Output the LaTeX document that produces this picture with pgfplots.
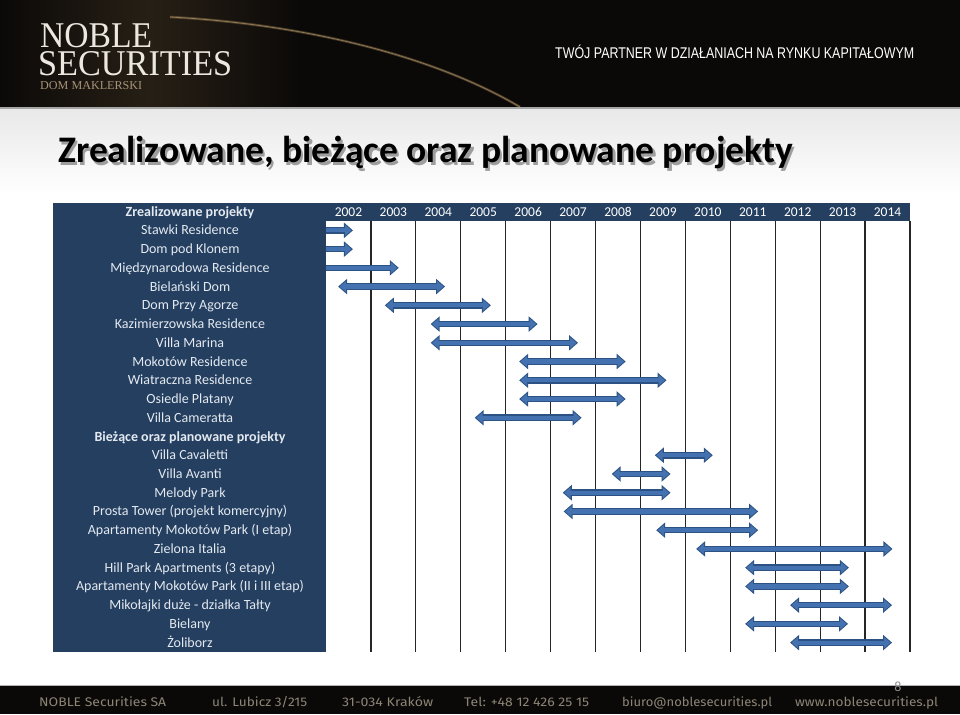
\documentclass[border=0pt]{standalone}
\usepackage{pgfplots}
\pgfplotsset{compat=1.18}
\usepackage{graphicx}
\usepackage{fontspec}
\setmainfont{Carlito}
\newfontfamily\logofont{Liberation Serif}
\newfontfamily\tagfont{Liberation Sans}
\newfontfamily\footfont{Fira Sans}
\usetikzlibrary{arrows.meta}
\definecolor{navy}{HTML}{243F60}
\definecolor{labeltext}{HTML}{E4E9F0}
\definecolor{arrowfill}{HTML}{4472B0}
\definecolor{arrowdark}{HTML}{2C5283}
\definecolor{headblack}{HTML}{0B0908}
\definecolor{logotext}{HTML}{ECE8E0}
\definecolor{logotan}{HTML}{A89478}
\definecolor{foottext}{HTML}{8C8476}
\definecolor{gold}{HTML}{B8945A}
\tikzset{
  dblo/.style={draw=arrowdark, line width=6.6pt, arrows={Triangle[width=15pt,length=9pt]-Triangle[width=15pt,length=9pt]}},
  dbli/.style={draw=arrowfill, line width=4.2pt, shorten <=1.5pt, shorten >=1.5pt, arrows={Triangle[width=10.6pt,length=6.4pt]-Triangle[width=10.6pt,length=6.4pt]}},
  rgto/.style={draw=arrowdark, line width=6.6pt, arrows={-Triangle[width=15pt,length=9pt]}},
  rgti/.style={draw=arrowfill, line width=4.2pt, shorten >=1.5pt, arrows={-Triangle[width=10.6pt,length=6.4pt]}},
}
\newcommand{\dbl}[3]{%
  \addplot[dblo, mark=none] coordinates {(#2,#1) (#3,#1)};
  \addplot[dbli, mark=none] coordinates {(#2,#1) (#3,#1)};}
\newcommand{\rgt}[3]{%
  \addplot[rgto, mark=none] coordinates {(#2,#1) (#3,#1)};
  \addplot[rgti, mark=none] coordinates {(#2,#1) (#3,#1)};}
\begin{document}
\begin{tikzpicture}[x=1pt,y=1pt]
\useasboundingbox (0,0) rectangle (960,714);
\fill[white] (0,0) rectangle (960,714);
\shade[top color=black!9, bottom color=white] (0,520) rectangle (960,606);
% header band
\fill[headblack] (0,607) rectangle (960,714);
\shade[left color=headblack, right color=headblack, middle color=gold!16!headblack] (0,607) rectangle (300,714);
\draw[gold, opacity=.35, line width=2.5pt] (170,697) .. controls (300,690) and (430,660) .. (520,607);
\draw[gold!70!white, opacity=.5, line width=0.8pt] (170,697) .. controls (300,690) and (430,660) .. (520,607);
\draw[black!35, line width=2pt] (0,606) -- (960,606);
% logo
\node[anchor=base west, inner sep=0, text=logotext] at (40,666) {\resizebox{112pt}{24pt}{\logofont NOBLE}};
\node[anchor=base west, inner sep=0, text=logotext] at (38,638.5) {\resizebox{194pt}{24pt}{\logofont SECURITIES}};
\node[anchor=base west, inner sep=0, text=logotan] at (40,624) {\resizebox{102pt}{8pt}{\logofont DOM MAKLERSKI}};
% tagline
\node[anchor=base west, inner sep=0, text=white] at (555,655) {\resizebox{359pt}{\height}{\tagfont\fontsize{15.5}{17}\selectfont TWÓJ PARTNER W DZIAŁANIACH NA RYNKU KAPITAŁOWYM}};
% title
\node[anchor=base west, inner sep=0, text=black!38] at (60.5,548.5) {\fontsize{37.5}{40}\selectfont\bfseries Zrealizowane, bieżące oraz planowane projekty};
\node[anchor=base west, inner sep=0, text=black] at (58,551) {\fontsize{37.5}{40}\selectfont\bfseries Zrealizowane, bieżące oraz planowane projekty};
% table panel
\fill[navy] (53,62) rectangle (326,511);
\fill[navy] (326,493) rectangle (910,511);
\node[text=labeltext, font=\fontsize{14}{16}\selectfont\bfseries, text height=9pt, text depth=0pt, anchor=center] at (190,502) {Zrealizowane projekty};
\begin{axis}[
  at={(326pt,62pt)}, anchor=south west,
  scale only axis, width=584pt, height=431pt,
  xmin=2002, xmax=2015, ymin=0.5, ymax=23.5, y dir=reverse,
  axis line style={draw=none},
  clip=false,
  xtick={2002.5,2003.5,2004.5,2005.5,2006.5,2007.5,2008.5,2009.5,2010.5,2011.5,2012.5,2013.5,2014.5},
  xticklabels={2002,2003,2004,2005,2006,2007,2008,2009,2010,2011,2012,2013,2014},
  xticklabel pos=upper,
  major tick length=0pt, minor tick length=0pt,
  minor xtick={2003,2004,2005,2006,2007,2008,2009,2010,2011,2012,2013,2014,2015},
  xminorgrids=true,
  minor grid style={black!85, line width=1.2pt},
  ytick={1,...,23},
  yticklabels={Stawki Residence,Dom pod Klonem,Międzynarodowa Residence,Bielański Dom,Dom Przy Agorze,Kazimierzowska Residence,Villa Marina,Mokotów Residence,Wiatraczna Residence,Osiedle Platany,Villa Cameratta,\textbf{Bieżące oraz planowane projekty},Villa Cavaletti,Villa Avanti,Melody Park,Prosta Tower (projekt komercyjny),Apartamenty Mokotów Park (I etap),Zielona Italia,Hill Park Apartments (3 etapy),Apartamenty Mokotów Park (II i III etap),Mikołajki duże - działka Tałty,Bielany,Żoliborz},
  xticklabel style={anchor=center, yshift=9pt, text height=8.5pt, text depth=0pt, font=\fontsize{13.5}{15}\selectfont, text=white},
  yticklabel style={anchor=center, xshift=-136pt, text height=9pt, text depth=0pt, font=\fontsize{14}{16}\selectfont, text=labeltext},
  /pgf/number format/assume math mode=true,
]
\rgt{1}{2002.0}{2002.6}
\rgt{2}{2002.0}{2002.6}
\rgt{3}{2002.0}{2003.62}
\dbl{4}{2002.27}{2004.65}
\dbl{5}{2003.31}{2005.67}
\dbl{6}{2004.33}{2006.71}
\dbl{7}{2004.33}{2007.61}
\dbl{8}{2006.30}{2008.67}
\dbl{9}{2006.30}{2009.58}
\dbl{10}{2006.30}{2008.67}
\dbl{11}{2005.31}{2007.69}
\dbl{13}{2009.32}{2010.61}
\dbl{14}{2008.36}{2009.67}
\dbl{15}{2007.27}{2009.67}
\dbl{16}{2007.29}{2011.62}
\dbl{17}{2009.35}{2011.62}
\dbl{18}{2010.24}{2014.61}
\dbl{19}{2011.33}{2013.64}
\dbl{20}{2011.33}{2013.64}
\dbl{21}{2012.33}{2014.60}
\dbl{22}{2011.33}{2013.62}
\dbl{23}{2012.33}{2014.60}
\end{axis}
% footer
\fill[headblack] (0,0) rectangle (960,28);
\draw[black!30, line width=1pt] (0,28.5) -- (960,28.5);
\node[anchor=base west, inner sep=0, text=foottext] at (39,7.3) {\resizebox{127pt}{\height}{\footfont\fontsize{12.5}{14}\selectfont NOBLE Securities SA}};
\node[anchor=base west, inner sep=0, text=foottext] at (212,7.3) {\resizebox{95pt}{\height}{\footfont\fontsize{12.5}{14}\selectfont ul. Lubicz 3/215}};
\node[anchor=base west, inner sep=0, text=foottext] at (342,7.3) {\resizebox{91pt}{\height}{\footfont\fontsize{12.5}{14}\selectfont 31-034 Kraków}};
\node[anchor=base west, inner sep=0, text=foottext] at (464,7.3) {\resizebox{125pt}{\height}{\footfont\fontsize{12.5}{14}\selectfont Tel: +48 12 426 25 15}};
\node[anchor=base west, inner sep=0, text=foottext] at (622,7.3) {\resizebox{150pt}{\height}{\footfont\fontsize{12.5}{14}\selectfont biuro@noblesecurities.pl}};
\node[anchor=base west, inner sep=0, text=foottext] at (795,7.3) {\resizebox{143pt}{\height}{\footfont\fontsize{12.5}{14}\selectfont www.noblesecurities.pl}};
\node[text=black!45, inner sep=0, font=\fontsize{14}{16}\selectfont] at (898,27.5) {8};
\end{tikzpicture}
\end{document}
